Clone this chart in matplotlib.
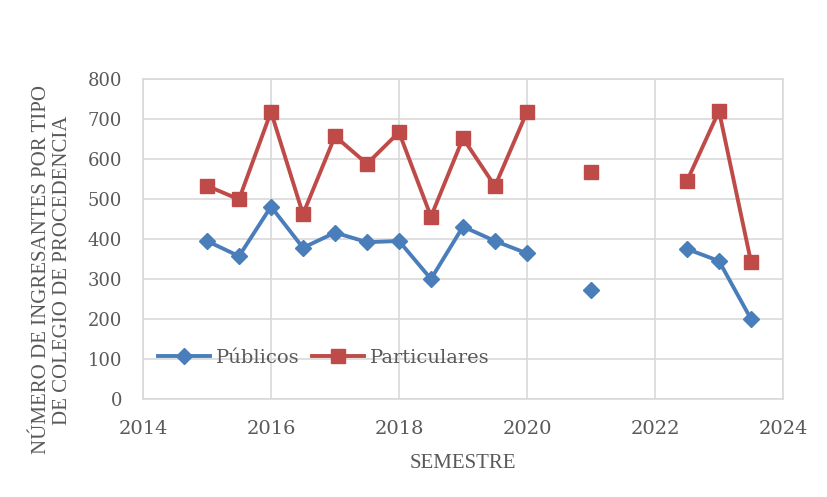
import numpy as np
import matplotlib
matplotlib.use("Agg")
import matplotlib.pyplot as plt

semestre = [2015, 2015.5, 2016, 2016.5, 2017, 2017.5, 2018, 2018.5, 2019, 2019.5, 2020,
            2020.5, 2021, 2021.5, 2022, 2022.5, 2023, 2023.5]
publicos = [395, 357, 481, 378, 416, 392, 395, 300, 431, 395, 364,
            np.nan, 272, np.nan, np.nan, 375, 345, 200]
particulares = [533, 499, 718, 462, 657, 588, 667, 456, 652, 532, 718,
                np.nan, 568, np.nan, np.nan, 545, 720, 343]
xticks = [2014, 2016, 2018, 2020, 2022, 2024]
yticks = [0, 100, 200, 300, 400, 500, 600, 700, 800]

fig = plt.figure(figsize=(8.28, 4.97), dpi=100)
ax = fig.add_axes([143/828, 1 - 399/497, 640/828, 320/497])

blue = "#4a7ebb"
red = "#be4b48"
grey = "#595959"
serif = ["DejaVu Serif"]

ax.plot(semestre, publicos, color=blue, lw=2.8, marker="D", markersize=8.5,
        label="Públicos", zorder=3)
ax.plot(semestre, particulares, color=red, lw=2.8, marker="s", markersize=10,
        label="Particulares", zorder=3)

ax.set_xlim(2014, 2024)
ax.set_ylim(0, 800)
ax.set_xticks(xticks)
ax.set_yticks(yticks)
ax.grid(True, color="#d9d9d9", lw=1.2, zorder=0)
for s in ax.spines.values():
    s.set_color("#d9d9d9")
    s.set_linewidth(1.2)
ax.tick_params(length=0, colors=grey)
ax.tick_params(axis="x", labelsize=14, pad=15)
ax.tick_params(axis="y", labelsize=13, pad=15)
for lab in ax.get_xticklabels():
    lab.set_family(serif)
for lab in ax.get_yticklabels():
    lab.set_family(serif)

ax.set_xlabel("SEMESTRE", family=["Liberation Serif"], fontsize=15, color=grey,
              va="center")
ax.xaxis.set_label_coords(0.5, (399 - 463) / 320)
ax.set_ylabel("NÚMERO DE INGRESANTES POR TIPO\nDE COLEGIO DE PROCEDENCIA",
              family=["Liberation Serif"], fontsize=15, color=grey,
              linespacing=1.2, va="center")
ax.yaxis.set_label_coords((52 - 143) / 640, (399 - 270) / 320)

leg = ax.legend(loc="center left", bbox_to_anchor=((158 - 143) / 640, 102 / 800), ncol=2,
                frameon=False, prop={"family": "DejaVu Serif", "size": 14},
                labelcolor=grey, handlelength=2.7, columnspacing=0.6,
                handletextpad=0.3, borderaxespad=0, borderpad=0)

fig.savefig("out.png", dpi=100)
